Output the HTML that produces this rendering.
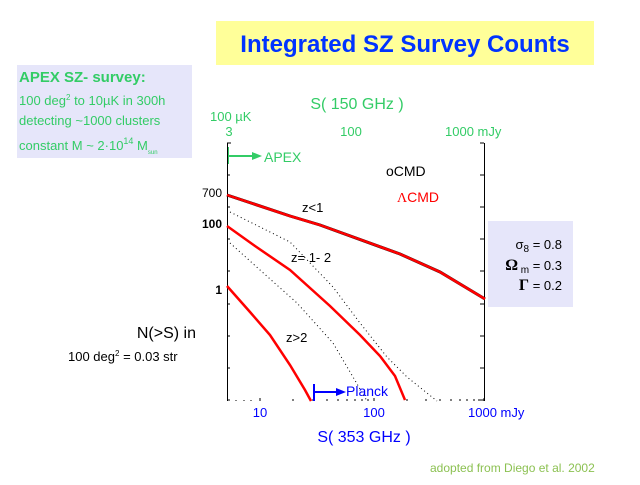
<!DOCTYPE html>
<html><head><meta charset="utf-8"><style>
body{margin:0;width:640px;height:480px;background:#fff;overflow:hidden;font-family:"Liberation Sans",sans-serif}
</style></head><body>
<svg width="640" height="480" xmlns="http://www.w3.org/2000/svg" font-family="Liberation Sans, sans-serif">
<rect x="216" y="21" width="378" height="44" fill="#ffff99"/>
<text x="405" y="52" font-size="24" font-weight="bold" fill="#0033ff" text-anchor="middle">Integrated SZ Survey Counts</text>
<rect x="17" y="65" width="175" height="93" fill="#e6e6fa"/>
<g fill="#33cc66">
<text x="19" y="82" font-size="15" font-weight="bold">APEX SZ- survey:</text>
<text x="19" y="105" font-size="13">100 deg<tspan font-size="8" dy="-5">2</tspan><tspan dy="5"> to 10µK in 300h</tspan></text>
<text x="19" y="125" font-size="13">detecting ~1000 clusters</text>
<text x="19" y="150" font-size="13">constant M ~ 2·10<tspan font-size="9" dy="-6">14</tspan><tspan dy="6"> M</tspan><tspan font-size="6" dy="4">sun</tspan></text>
<text x="357" y="109" font-size="16" text-anchor="middle">S( 150 GHz )</text>
<text x="210" y="121" font-size="13">100 µK</text>
<text x="229" y="136" font-size="13" text-anchor="middle">3</text>
<text x="351" y="136" font-size="13" text-anchor="middle">100</text>
<text x="445" y="136" font-size="13">1000 mJy</text>
<text x="264" y="162" font-size="14">APEX</text>
</g>
<g stroke="#33cc66" stroke-width="2" fill="#33cc66">
<line x1="228" y1="147" x2="228" y2="164"/><line x1="228" y1="156" x2="254" y2="156"/>
<polygon points="252,152 262,156 252,160" stroke="none"/>
</g>
<rect x="488" y="221" width="85" height="86" fill="#e6e6fa"/>
<g font-size="13" fill="#000" text-anchor="end">
<text x="562" y="249">σ<tspan font-size="10" dy="3">8</tspan><tspan dy="-3"> = 0.8</tspan></text>
<text x="562" y="270"><tspan font-weight="bold" font-family="Liberation Serif" font-size="16">Ω</tspan><tspan font-size="10" dy="3"> m</tspan><tspan dy="-3"> = 0.3</tspan></text>
<text x="562" y="290"><tspan font-weight="bold" font-family="Liberation Serif" font-size="16">Γ</tspan> = 0.2</text>
</g>
<!-- axes -->
<g stroke="#000" stroke-width="1">
<line x1="227.5" y1="143" x2="227.5" y2="401"/>
<line x1="484.5" y1="143" x2="484.5" y2="401"/>
<path d="M227,143h4M227,175h3M227,207h3M227,239h3M227,271h3M227,304h3M227,336h3M227,368h3M227,400h3M484,143h-4M484,175h-4M484,207h-4M484,239h-4M484,271h-4M484,304h-4M484,336h-4M484,368h-4M484,400h-4" />
<path d="M260,401v-3M374,401v-3M484,401v-3M236,401v-1M244,401v-1M251,401v-1M293,401v-2M313,401v-2M327,401v-2M338,401v-2M347,401v-2M355,401v-2M362,401v-2M368,401v-2M407,401v-2M426,401v-2M440,401v-2M451,401v-2M460,401v-2M467,401v-2M474,401v-2M479,401v-2"/>
</g>
<g font-size="12" fill="#000" font-weight="bold" text-anchor="end">
<text x="222" y="228">100</text><text x="222" y="294">1</text>
</g>
<text x="222" y="197" font-size="12" text-anchor="end">700</text>
<text x="386" y="176" font-size="14">oCMD</text>
<text x="397" y="202" font-size="14" fill="#ff0000"><tspan font-family="Liberation Serif">Λ</tspan>CMD</text>
<g font-size="13" fill="#000">
<text x="302" y="212">z&lt;1</text>
<text x="291" y="262">z= 1- 2</text>
<text x="286" y="342">z&gt;2</text>
</g>
<!-- dotted -->
<g fill="none" stroke="#000" stroke-width="1" stroke-dasharray="1,3">
<path d="M230,212 L290,242 L333,287 L360,323 L387,357 L407,377 L437,401"/>
<path d="M230,243 L260,270 L297,303 L333,343 L353,377 L367,401"/>
</g>
<path d="M227,195 L290,216 L320,225 L400,254 L440,272 L485,299" fill="none" stroke="#000" stroke-width="3"/>
<g fill="none" stroke="#ff0000" stroke-width="2.5">
<path d="M227,195 L290,216 L320,225 L400,254 L440,272 L485,299"/>
<path d="M227,226 L255,246 L290,270 L330,306 L360,335 L380,356 L395,376 L405,400"/>
<path d="M227,286 L250,312 L270,335 L290,365 L305,390 L311,401"/>
</g>
<g stroke="#0000ff" stroke-width="2" fill="#0000ff">
<line x1="314" y1="384" x2="314" y2="401"/><line x1="314" y1="392" x2="338" y2="392"/>
<polygon points="336,388 346,392 336,396" stroke="none"/>
</g>
<g fill="#0000ff">
<text x="346" y="396" font-size="14">Planck</text>
<text x="260" y="417" font-size="13" text-anchor="middle">10</text>
<text x="374" y="417" font-size="13" text-anchor="middle">100</text>
<text x="468" y="417" font-size="13">1000 mJy</text>
<text x="364" y="442" font-size="16" text-anchor="middle">S( 353 GHz )</text>
</g>
<text x="196" y="338" font-size="16" text-anchor="end">N(&gt;S)  in</text>
<text x="68" y="361" font-size="13">100 deg<tspan font-size="8" dy="-5">2</tspan><tspan dy="5"> = 0.03 str</tspan></text>
<text x="430" y="472" font-size="12" fill="#8cc152">adopted from Diego et al. 2002</text>
</svg>
</body></html>
